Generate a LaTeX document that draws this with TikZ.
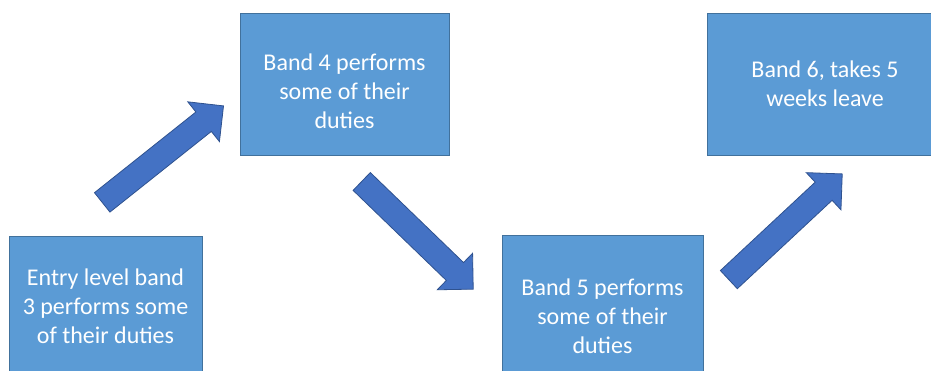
\documentclass[tikz,border=0pt]{standalone}
\usepackage{fontspec}
\setmainfont{Carlito}
\usetikzlibrary{shapes.arrows}
\definecolor{boxFill}{HTML}{5B9BD5}
\definecolor{boxLine}{HTML}{41719C}
\definecolor{arrFill}{HTML}{4472C4}
\definecolor{arrLine}{HTML}{2F528F}
\begin{document}
\begin{tikzpicture}[x=1pt,y=1pt,
    band/.style={draw=boxLine, fill=boxFill, line width=0.8pt, text=white,
      align=center, inner sep=0pt, font=\fontsize{24}{29}\selectfont},
    push/.style={single arrow, draw=arrLine, fill=arrFill, line width=0.8pt,
      inner sep=0pt, text height=12pt, text depth=12pt, minimum height=155pt,
      single arrow head extend=13pt, single arrow tip angle=90}]
        \useasboundingbox (0,0) rectangle (931,370);
        \fill[white] (0,0) rectangle (931,370);
        % boxes
        \node[band, minimum width=193pt, minimum height=140pt] (b3) at (105.5,64)
              {Entry level band\\3 performs some\\of their duties};
        \node[band, minimum width=209pt, minimum height=142pt, text height=90pt] (b4) at (344.5,286)
              {Band 4 performs\\some of their\\duties};
        \node[band, minimum width=201pt, minimum height=162pt] (b5) at (602.5,54)
              {Band 5 performs\\some of their\\duties};
        \node[band, minimum width=236pt, minimum height=142pt] (b6) at (825,286)
              {Band 6, takes 5\\weeks leave};
        % arrows
        \node[push, rotate=38.5] (a34) at (158,212) {};
        \node[push, rotate=-44] (a45) at (413,139) {};
        \node[push, rotate=43] (a56) at (781,139) {};
      \end{tikzpicture}
\end{document}
